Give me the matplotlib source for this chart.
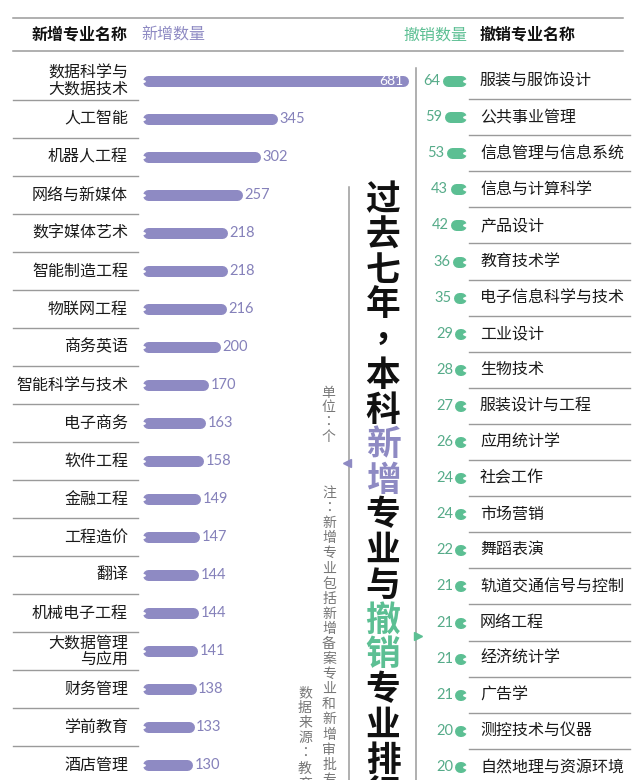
import matplotlib
matplotlib.use("Agg")
import matplotlib.pyplot as plt
from matplotlib import transforms

plt.rcParams['font.family'] = ['Noto Sans CJK SC', 'DejaVu Sans']

# new majors (left) and removed majors (right)
new_names = ['数据科学与\n大数据技术', '人工智能', '机器人工程', '网络与新媒体', '数字媒体艺术',
             '智能制造工程', '物联网工程', '商务英语', '智能科学与技术', '电子商务', '软件工程',
             '金融工程', '工程造价', '翻译', '机械电子工程', '大数据管理\n与应用', '财务管理',
             '学前教育', '酒店管理']
new_counts = [681, 345, 302, 257, 218, 218, 216, 200, 170, 163, 158, 149, 147, 144, 144,
              141, 138, 133, 130]

cut_names = ['服装与服饰设计', '公共事业管理', '信息管理与信息系统', '信息与计算科学', '产品设计',
             '教育技术学', '电子信息科学与技术', '工业设计', '生物技术', '服装设计与工程',
             '应用统计学', '社会工作', '市场营销', '舞蹈表演', '轨道交通信号与控制', '网络工程',
             '经济统计学', '广告学', '测控技术与仪器', '自然地理与资源环境']
cut_counts = [64, 59, 53, 43, 42, 36, 35, 29, 28, 27, 26, 24, 24, 22, 21, 21, 21, 21, 20, 20]

title_parts = [('过去七年，本科', 'black'), ('新增', 'purple'), ('专业与', 'black'),
               ('撤销', 'green'), ('专业排行', 'black')]
unit_note = '单位：个'
note = '注：新增专业包括新增备案专业和新增审批专业'
source = '数据来源：教育部'

PURPLE = '#8e8ac3'
PURPLE_TXT = '#8581ba'
GREEN = '#5cbf93'
GREEN_TXT = '#56ab89'
LINE = '#9a9a9a'
GREY_TXT = '#777777'
colors = {'black': '#111111', 'purple': PURPLE, 'green': GREEN}

W, H = 640, 780
fig = plt.figure(figsize=(W / 100, H / 100), dpi=100)


def fx(x):
    return x / W


def fy(y):
    return 1 - y / H


# left chart: value scale in px per unit, row pitch in px
SL, ROW_L, Y0 = 0.392, 38.0, 81
axL = fig.add_axes([0, 0, 1, 1])
axL.axis('off')
axL.set_xlim(-142 / SL, (W - 142) / SL)
axL.set_ylim((H - Y0) / ROW_L, -Y0 / ROW_L)

SR, ROW_R = 0.37, 36.1
axR = fig.add_axes([0, 0, 1, 1])
axR.axis('off')
axR.patch.set_alpha(0)
axR.set_xlim(466 / SR, -(W - 466) / SR)
axR.set_ylim((H - Y0) / ROW_R, -Y0 / ROW_R)

BAR_PX = 11
lw = BAR_PX * 0.72
rL = BAR_PX / 2 / SL
rR = BAR_PX / 2 / SR

# left bars
for i, (name, v) in enumerate(zip(new_names, new_counts)):
    axL.plot([rL, v - rL], [i, i], color=PURPLE, lw=lw, solid_capstyle='round')
    axL.plot(0, i, marker='>', ms=4.5, color='white', mec='white')
    axL.annotate(name, (0, i), xytext=(-14, 0), textcoords='offset pixels',
                 ha='right', va='center', fontsize=11.5, color='#1a1a1a',
                 weight='medium', linespacing=0.95, multialignment='right')
    if i == 0:
        axL.annotate(str(v), (v, i), xytext=(-5, 0), textcoords='offset pixels',
                     ha='right', va='center', fontsize=10, color='white',
                     family='Lato')
    else:
        axL.annotate(str(v), (v, i), xytext=(2, 0), textcoords='offset pixels',
                     ha='left', va='center', fontsize=10.5, color=PURPLE_TXT,
                     family='Lato')

tL = transforms.blended_transform_factory(fig.transFigure, axL.transData)
for i in range(len(new_names) - 1):
    axL.plot([fx(13), fx(138)], [i + 0.5, i + 0.5], color=LINE, lw=1, transform=tL)

# right bars
for j, (name, v) in enumerate(zip(cut_names, cut_counts)):
    x0 = max(v - rR, rR + 0.01)
    axR.plot([x0, rR], [j, j], color=GREEN, lw=lw, solid_capstyle='round')
    axR.plot(0, j, marker='<', ms=4.5, color='white', mec='white')
    axR.annotate(str(v), (max(v, 2 * rR), j), xytext=(-2, 0), textcoords='offset pixels',
                 ha='right', va='center', fontsize=10.5, color=GREEN_TXT,
                 family='Lato')
    axR.annotate(name, (0, j), xytext=(14, 0), textcoords='offset pixels',
                 ha='left', va='center', fontsize=11.5, color='#1a1a1a',
                 weight='medium')

tR = transforms.blended_transform_factory(fig.transFigure, axR.transData)
for j in range(len(cut_names) - 1):
    axR.plot([fx(469), fx(630)], [j + 0.5, j + 0.5], color=LINE, lw=1, transform=tR)

# header
for yy in (18, 51):
    fig.add_artist(plt.Line2D([fx(13), fx(623)], [fy(yy), fy(yy)], color=LINE, lw=1.1))
fig.text(fx(128), fy(35), '新增专业名称', ha='right', va='center', fontsize=11.5,
         weight='bold', color='#111111')
fig.text(fx(141), fy(35), '新增数量', ha='left', va='center', fontsize=11.5,
         weight='medium', color=PURPLE)
fig.text(fx(467), fy(35), '撤销数量', ha='right', va='center', fontsize=11.5,
         weight='medium', color=GREEN)
fig.text(fx(480), fy(35), '撤销专业名称', ha='left', va='center', fontsize=11.5,
         weight='bold', color='#111111')

# divider lines with pointers
fig.add_artist(plt.Line2D([fx(416), fx(416)], [fy(68), fy(H)], color=LINE, lw=1.1))
fig.add_artist(plt.Line2D([fx(349), fx(349)], [fy(187), fy(H)], color=LINE, lw=1.1))
fig.add_artist(plt.Line2D([fx(418)], [fy(636)], marker='>', ms=6, color=GREEN, mec=GREEN))
fig.add_artist(plt.Line2D([fx(347)], [fy(463)], marker='<', ms=6, color=PURPLE, mec=PURPLE))

PUNCT = '，：'


def vchar(ch, x, y, size, color, **kw):
    # full-width punctuation centred in its cell, as in vertical typesetting
    fam = ['Noto Sans CJK TC', 'DejaVu Sans'] if ch in PUNCT else None
    fig.text(fx(x), fy(y), ch, ha='center', va='center', fontsize=size,
             color=color, family=fam, **kw)


def vtext(s, x, y0, step, size, color, **kw):
    for k, ch in enumerate(s):
        vchar(ch, x, y0 + k * step, size, color, **kw)


# vertical title
k = 0
for part, c in title_parts:
    for ch in part:
        vchar(ch, 383, 200 + k * 35, 25, colors[c], weight='heavy')
        k += 1

vtext(unit_note, 328, 393, 14.5, 10, GREY_TXT)
vtext(note, 329, 493, 15.1, 10, GREY_TXT)
vtext(source, 305, 693, 15.1, 10, GREY_TXT)

fig.savefig('out.png', dpi=100)
